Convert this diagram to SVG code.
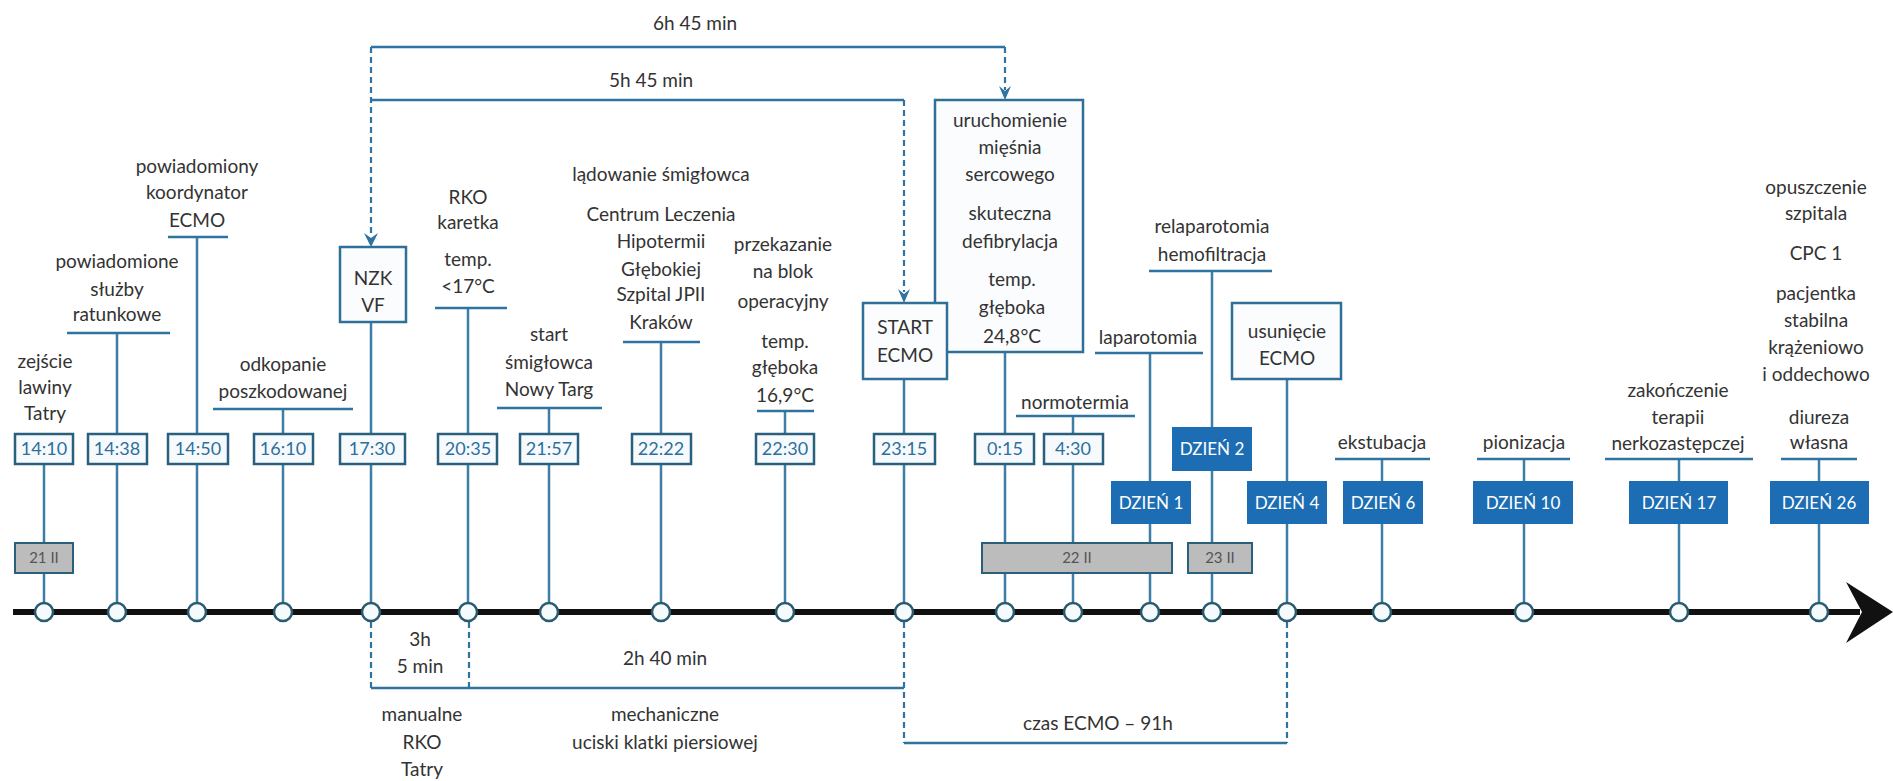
<svg xmlns="http://www.w3.org/2000/svg" width="1893" height="781" viewBox="0 0 1893 781">
<style>
text{font-family:Lato,"Liberation Sans",sans-serif;text-anchor:middle}
.lbl{font-size:19px;fill:#333}
.tb rect{fill:#f7fafc;stroke:#2b5f7e;stroke-width:2.5}
.tb text{fill:#2d6f9c;font-size:18px}
.bx{fill:#fbfcfd;stroke:#2f6f98;stroke-width:2.5}
.day rect{fill:#1c6db3}
.day text{fill:#fff;font-size:17px}
.grey rect{fill:#bcbcbc;stroke:#2b5f7e;stroke-width:2}
.grey text{fill:#555;font-size:15px}
.ul{stroke:#2f73a0;stroke-width:2.5}
.stem{stroke:#3d7ea6;stroke-width:2.5}
.dash{stroke:#2f73a0;stroke-width:2.2;stroke-dasharray:6 4;fill:none}
.br{stroke:#2f73a0;stroke-width:2.5;fill:none}
.ah{fill:#2f73a0}
.dot{fill:#f5fafc;stroke:#2a5a6e;stroke-width:2.5}
</style>
<rect width="1893" height="781" fill="#fff"/>

<g id="connectors">
  <!-- stems -->
  <line class="stem" x1="44" y1="449" x2="44" y2="612"/>
  <line class="stem" x1="117" y1="333" x2="117" y2="612"/>
  <line class="stem" x1="197" y1="237" x2="197" y2="612"/>
  <line class="stem" x1="283" y1="409" x2="283" y2="612"/>
  <line class="stem" x1="371" y1="300" x2="371" y2="612"/>
  <line class="stem" x1="468" y1="308" x2="468" y2="612"/>
  <line class="stem" x1="549" y1="408" x2="549" y2="612"/>
  <line class="stem" x1="661" y1="342" x2="661" y2="612"/>
  <line class="stem" x1="785" y1="411" x2="785" y2="612"/>
  <line class="stem" x1="904" y1="360" x2="904" y2="612"/>
  <line class="stem" x1="1005" y1="352" x2="1005" y2="612"/>
  <line class="stem" x1="1073" y1="416" x2="1073" y2="612"/>
  <line class="stem" x1="1150" y1="353" x2="1150" y2="612"/>
  <line class="stem" x1="1212" y1="271" x2="1212" y2="612"/>
  <line class="stem" x1="1287" y1="360" x2="1287" y2="612"/>
  <line class="stem" x1="1382" y1="459" x2="1382" y2="612"/>
  <line class="stem" x1="1524" y1="459" x2="1524" y2="612"/>
  <line class="stem" x1="1679" y1="459" x2="1679" y2="612"/>
  <line class="stem" x1="1819" y1="459" x2="1819" y2="612"/>
  <!-- top brackets -->
  <path class="br" d="M371,47 H1005"/>
  <path class="br" d="M371,100 H904"/>
  <path class="dash" d="M371,47 V236"/>
  <path class="dash" d="M1005,47 V90"/>
  <path class="dash" d="M904,100 V292"/>
  <path class="ah" d="M364,233 L371,247 L378,233 L371,238 Z"/>
  <path class="ah" d="M898,289 L904,303 L910,289 L904,294 Z"/>
  <path class="ah" d="M999,86 L1005,100 L1011,86 L1005,91 Z"/>
  <!-- bottom brackets -->
  <path class="dash" d="M371,622 V688"/>
  <path class="dash" d="M469,622 V688"/>
  <path class="dash" d="M904,622 V743"/>
  <path class="dash" d="M1287,622 V743"/>
  <path class="br" d="M371,688 H904"/>
  <path class="br" d="M904,743 H1287"/>
  <!-- timeline -->
  <line x1="13" y1="612" x2="1860" y2="612" stroke="#111" stroke-width="6"/>
  <path d="M1846,582 L1893,612 L1846,643 L1862,612 Z" fill="#111"/>
</g>

<g id="brackets-text" class="lbl">
  <text x="695" y="30">6h 45 min</text>
  <text x="651" y="87">5h 45 min</text>
  <text x="420" y="646">3h</text>
  <text x="420" y="673">5 min</text>
  <text x="665" y="665">2h 40 min</text>
  <text x="422" y="721">manualne</text>
  <text x="422" y="749">RKO</text>
  <text x="422" y="776">Tatry</text>
  <text x="665" y="721">mechaniczne</text>
  <text x="665" y="749">uciski klatki piersiowej</text>
  <text x="1098" y="730">czas ECMO – 91h</text>
</g>

<g id="dots">
  <circle class="dot" cx="44" cy="612" r="9"/>
  <circle class="dot" cx="117" cy="612" r="9"/>
  <circle class="dot" cx="197" cy="612" r="9"/>
  <circle class="dot" cx="283" cy="612" r="9"/>
  <circle class="dot" cx="371" cy="612" r="9"/>
  <circle class="dot" cx="468" cy="612" r="9"/>
  <circle class="dot" cx="549" cy="612" r="9"/>
  <circle class="dot" cx="661" cy="612" r="9"/>
  <circle class="dot" cx="785" cy="612" r="9"/>
  <circle class="dot" cx="904" cy="612" r="9"/>
  <circle class="dot" cx="1005" cy="612" r="9"/>
  <circle class="dot" cx="1073" cy="612" r="9"/>
  <circle class="dot" cx="1150" cy="612" r="9"/>
  <circle class="dot" cx="1212" cy="612" r="9"/>
  <circle class="dot" cx="1287" cy="612" r="9"/>
  <circle class="dot" cx="1382" cy="612" r="9"/>
  <circle class="dot" cx="1524" cy="612" r="9"/>
  <circle class="dot" cx="1679" cy="612" r="9"/>
  <circle class="dot" cx="1819" cy="612" r="9"/>
</g>

<g id="n1410">
  <g class="lbl"><text x="45" y="368">zejście</text><text x="45" y="394">lawiny</text><text x="45" y="420">Tatry</text></g>
  <g class="tb"><rect x="15" y="434" width="58" height="30"/><text x="44" y="455">14:10</text></g>
</g>
<g id="d21" class="grey"><rect x="15" y="543" width="58" height="30"/><text x="44" y="563">21 II</text></g>

<g id="n1438">
  <g class="lbl"><text x="117" y="268">powiadomione</text><text x="117" y="296">służby</text><text x="117" y="321">ratunkowe</text></g>
  <line class="ul" x1="67" y1="333" x2="170" y2="333"/>
  <g class="tb"><rect x="88" y="434" width="59" height="30"/><text x="117" y="455">14:38</text></g>
</g>

<g id="n1450">
  <g class="lbl"><text x="197" y="173">powiadomiony</text><text x="197" y="199">koordynator</text><text x="197" y="227">ECMO</text></g>
  <line class="ul" x1="168" y1="237" x2="228" y2="237"/>
  <g class="tb"><rect x="168" y="434" width="60" height="30"/><text x="198" y="455">14:50</text></g>
</g>

<g id="n1610">
  <g class="lbl"><text x="283" y="371">odkopanie</text><text x="283" y="398">poszkodowanej</text></g>
  <line class="ul" x1="213" y1="409" x2="353" y2="409"/>
  <g class="tb"><rect x="254" y="434" width="59" height="30"/><text x="283" y="455">16:10</text></g>
</g>

<g id="n1730">
  <rect class="bx" x="340" y="247" width="66" height="75"/>
  <g class="lbl"><text x="373" y="285">NZK</text><text x="373" y="312">VF</text></g>
  <g class="tb"><rect x="340" y="434" width="65" height="30"/><text x="372" y="455">17:30</text></g>
</g>

<g id="n2035">
  <g class="lbl"><text x="468" y="204">RKO</text><text x="468" y="229">karetka</text><text x="468" y="266">temp.</text><text x="468" y="293">&lt;17°C</text></g>
  <line class="ul" x1="435" y1="308" x2="507" y2="308"/>
  <g class="tb"><rect x="438" y="434" width="59" height="30"/><text x="468" y="455">20:35</text></g>
</g>

<g id="n2157">
  <g class="lbl"><text x="549" y="341">start</text><text x="549" y="369">śmigłowca</text><text x="549" y="396">Nowy Targ</text></g>
  <line class="ul" x1="497" y1="408" x2="602" y2="408"/>
  <g class="tb"><rect x="520" y="434" width="58" height="30"/><text x="549" y="455">21:57</text></g>
</g>

<g id="n2222">
  <g class="lbl"><text x="661" y="181">lądowanie śmigłowca</text><text x="661" y="221">Centrum Leczenia</text><text x="661" y="248">Hipotermii</text><text x="661" y="276">Głębokiej</text><text x="661" y="301">Szpital JPII</text><text x="661" y="329">Kraków</text></g>
  <line class="ul" x1="623" y1="342" x2="700" y2="342"/>
  <g class="tb"><rect x="632" y="434" width="59" height="30"/><text x="661" y="455">22:22</text></g>
</g>

<g id="n2230">
  <g class="lbl"><text x="783" y="251">przekazanie</text><text x="783" y="278">na blok</text><text x="783" y="308">operacyjny</text><text x="785" y="348">temp.</text><text x="785" y="374">głęboka</text><text x="785" y="402">16,9°C</text></g>
  <line class="ul" x1="757" y1="411" x2="814" y2="411"/>
  <g class="tb"><rect x="756" y="434" width="58" height="30"/><text x="785" y="455">22:30</text></g>
</g>

<g id="n015">
  <rect class="bx" x="935" y="100" width="148" height="252"/>
  <g class="lbl"><text x="1010" y="127">uruchomienie</text><text x="1010" y="154">mięśnia</text><text x="1010" y="181">sercowego</text><text x="1010" y="220">skuteczna</text><text x="1010" y="248">defibrylacja</text><text x="1012" y="286">temp.</text><text x="1012" y="314">głęboka</text><text x="1012" y="343">24,8°C</text></g>
  <g class="tb"><rect x="975" y="434" width="59" height="30"/><text x="1005" y="455">0:15</text></g>
</g>

<g id="n2315">
  <rect class="bx" x="863" y="303" width="84" height="76"/>
  <g class="lbl"><text x="905" y="334">START</text><text x="905" y="362">ECMO</text></g>
  <g class="tb"><rect x="874" y="434" width="61" height="30"/><text x="904" y="455">23:15</text></g>
</g>

<g id="n430">
  <text class="lbl" x="1075" y="409">normotermia</text>
  <line class="ul" x1="1016" y1="416" x2="1135" y2="416"/>
  <g class="tb"><rect x="1044" y="434" width="59" height="30"/><text x="1073" y="455">4:30</text></g>
</g>
<g id="d22" class="grey"><rect x="982" y="543" width="190" height="30"/><text x="1077" y="563">22 II</text></g>

<g id="dzien1">
  <text class="lbl" x="1148" y="344">laparotomia</text>
  <line class="ul" x1="1095" y1="353" x2="1203" y2="353"/>
  <g class="day"><rect x="1111" y="481" width="80" height="43"/><text x="1151" y="509">DZIEŃ 1</text></g>
</g>

<g id="dzien2">
  <g class="lbl"><text x="1212" y="233">relaparotomia</text><text x="1212" y="261">hemofiltracja</text></g>
  <line class="ul" x1="1149" y1="271" x2="1272" y2="271"/>
  <g class="day"><rect x="1172" y="427" width="80" height="44"/><text x="1212" y="455">DZIEŃ 2</text></g>
</g>
<g id="d23" class="grey"><rect x="1188" y="543" width="64" height="30"/><text x="1220" y="563">23 II</text></g>

<g id="dzien4">
  <rect class="bx" x="1232" y="303" width="109" height="76"/>
  <g class="lbl"><text x="1287" y="338">usunięcie</text><text x="1287" y="365">ECMO</text></g>
  <g class="day"><rect x="1247" y="481" width="80" height="43"/><text x="1287" y="509">DZIEŃ 4</text></g>
</g>

<g id="dzien6">
  <text class="lbl" x="1382" y="449">ekstubacja</text>
  <line class="ul" x1="1335" y1="459" x2="1430" y2="459"/>
  <g class="day"><rect x="1343" y="481" width="80" height="43"/><text x="1383" y="509">DZIEŃ 6</text></g>
</g>

<g id="dzien10">
  <text class="lbl" x="1524" y="449">pionizacja</text>
  <line class="ul" x1="1477" y1="459" x2="1570" y2="459"/>
  <g class="day"><rect x="1473" y="481" width="100" height="43"/><text x="1523" y="509">DZIEŃ 10</text></g>
</g>

<g id="dzien17">
  <g class="lbl"><text x="1678" y="397">zakończenie</text><text x="1678" y="424">terapii</text><text x="1678" y="450">nerkozastępczej</text></g>
  <line class="ul" x1="1605" y1="459" x2="1753" y2="459"/>
  <g class="day"><rect x="1629" y="481" width="99" height="43"/><text x="1679" y="509">DZIEŃ 17</text></g>
</g>

<g id="dzien26">
  <g class="lbl"><text x="1816" y="194">opuszczenie</text><text x="1816" y="220">szpitala</text><text x="1816" y="260">CPC 1</text><text x="1816" y="300">pacjentka</text><text x="1816" y="327">stabilna</text><text x="1816" y="354">krążeniowo</text><text x="1816" y="381">i oddechowo</text><text x="1819" y="424">diureza</text><text x="1819" y="449">własna</text></g>
  <line class="ul" x1="1781" y1="459" x2="1857" y2="459"/>
  <g class="day"><rect x="1770" y="481" width="99" height="43"/><text x="1819" y="509">DZIEŃ 26</text></g>
</g>
</svg>
